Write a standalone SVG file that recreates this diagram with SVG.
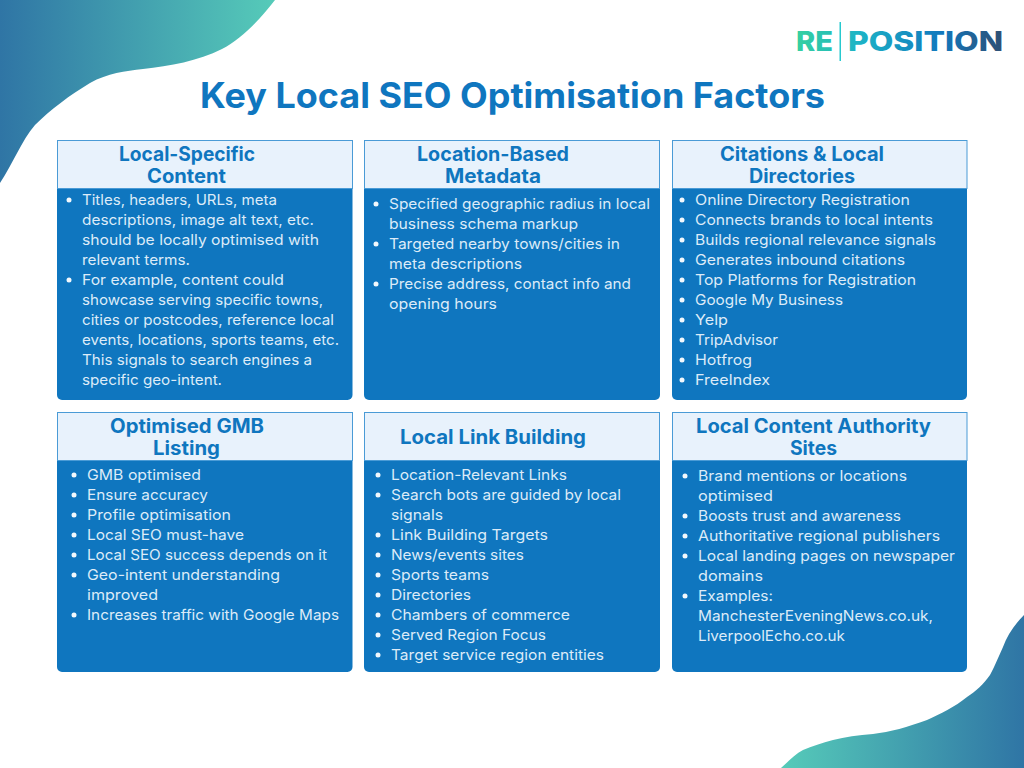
<svg xmlns="http://www.w3.org/2000/svg" width="1024" height="768" viewBox="0 0 1024 768">
<style>
text{font-family:Inter,"Open Sans","Liberation Sans",sans-serif}
.b{fill:#0f76bf}
.h{fill:#e8f2fc;stroke:#4a9bd6;stroke-width:1}
.t{font-size:19.5px;font-weight:700;fill:#0f76bf}
.l{font-size:14.5px;fill:#dcebf8;font-weight:400}
.d{fill:#f2f8fd}
</style>
<defs>
<linearGradient id="g1" gradientUnits="userSpaceOnUse" x1="0" y1="0" x2="275" y2="0"><stop offset="0" stop-color="#2f75a5"/><stop offset="1" stop-color="#56cbb9"/></linearGradient>
<linearGradient id="g2" gradientUnits="userSpaceOnUse" x1="1024" y1="0" x2="781" y2="0"><stop offset="0" stop-color="#2f75a5"/><stop offset="1" stop-color="#56cbb9"/></linearGradient>
<linearGradient id="g3" gradientUnits="userSpaceOnUse" x1="796" y1="0" x2="1003" y2="0"><stop offset="0" stop-color="#36d0a0"/><stop offset=".3" stop-color="#1db4c6"/><stop offset=".7" stop-color="#1278bd"/><stop offset="1" stop-color="#2f4f73"/></linearGradient>
</defs>
<path id="blob-top" fill="url(#g1)" d="M0,0H275C258,22 240,40 222,49C198,61 170,66 143,69C125,71 108,73 90,83C70,95 50,110 35,125C22,140 12,165 0,183Z"/>
<path id="blob-bottom" fill="url(#g2)" d="M1024,615C1014,625 1007,636 1003,647C997,660 994,668 990,675C983,685 976,691 967,697C955,707 940,714 927,720C908,727 890,732 873,734C858,735 845,737 833,740C822,743 812,746 803,750C795,754 788,762 781,768H1024Z"/>
<g id="logo">
<text x="796" y="51" font-size="27" font-weight="800" fill="url(#g3)" textLength="37" lengthAdjust="spacingAndGlyphs">RE</text>
<rect x="839.500" y="22" width="1.500" height="39" fill="#27c9cf"/>
<text x="848" y="51" font-size="27" font-weight="800" fill="url(#g3)" textLength="155" lengthAdjust="spacingAndGlyphs">POSITION</text>
</g>
<text id="title" x="200" y="108" font-size="35" font-weight="700" fill="#0f76bf" textLength="625" lengthAdjust="spacingAndGlyphs">Key Local SEO Optimisation Factors</text>

<g id="card-1">
<path class="b" d="M57,188H352.500V395a5,5 0 0 1-5,5H62a5,5 0 0 1-5-5Z"/>
<rect class="h" x="57.500" y="140.500" width="295" height="48"/>
<text class="t" x="119" y="161" textLength="136" lengthAdjust="spacingAndGlyphs">Local-Specific</text>
<text class="t" x="147" y="183" textLength="79" lengthAdjust="spacingAndGlyphs">Content</text>
<circle class="d" cx="69" cy="200" r="2.500"/><circle class="d" cx="69" cy="280" r="2.500"/>
<text class="l" x="82" y="205" textLength="195" lengthAdjust="spacingAndGlyphs">Titles, headers, URLs, meta</text>
<text class="l" x="82" y="225" textLength="232" lengthAdjust="spacingAndGlyphs">descriptions, image alt text, etc.</text>
<text class="l" x="82" y="245" textLength="237" lengthAdjust="spacingAndGlyphs">should be locally optimised with</text>
<text class="l" x="82" y="265" textLength="108" lengthAdjust="spacingAndGlyphs">relevant terms.</text>
<text class="l" x="82" y="285" textLength="202" lengthAdjust="spacingAndGlyphs">For example, content could</text>
<text class="l" x="82" y="305" textLength="241" lengthAdjust="spacingAndGlyphs">showcase serving specific towns,</text>
<text class="l" x="82" y="325" textLength="252" lengthAdjust="spacingAndGlyphs">cities or postcodes, reference local</text>
<text class="l" x="82" y="345" textLength="257" lengthAdjust="spacingAndGlyphs">events, locations, sports teams, etc.</text>
<text class="l" x="82" y="365" textLength="230" lengthAdjust="spacingAndGlyphs">This signals to search engines a</text>
<text class="l" x="82" y="385" textLength="140" lengthAdjust="spacingAndGlyphs">specific geo-intent.</text>
</g>

<g id="card-2">
<path class="b" d="M364,188H660V395a5,5 0 0 1-5,5H369a5,5 0 0 1-5-5Z"/>
<rect class="h" x="364.500" y="140.500" width="295" height="48"/>
<text class="t" x="417" y="161" textLength="152" lengthAdjust="spacingAndGlyphs">Location-Based</text>
<text class="t" x="445" y="183" textLength="96" lengthAdjust="spacingAndGlyphs">Metadata</text>
<circle class="d" cx="376" cy="204" r="2.500"/><circle class="d" cx="376" cy="244" r="2.500"/><circle class="d" cx="376" cy="284" r="2.500"/>
<text class="l" x="389" y="209" textLength="261" lengthAdjust="spacingAndGlyphs">Specified geographic radius in local</text>
<text class="l" x="389" y="229" textLength="189" lengthAdjust="spacingAndGlyphs">business schema markup</text>
<text class="l" x="389" y="249" textLength="231" lengthAdjust="spacingAndGlyphs">Targeted nearby towns/cities in</text>
<text class="l" x="389" y="269" textLength="133" lengthAdjust="spacingAndGlyphs">meta descriptions</text>
<text class="l" x="389" y="289" textLength="242" lengthAdjust="spacingAndGlyphs">Precise address, contact info and</text>
<text class="l" x="389" y="309" textLength="108" lengthAdjust="spacingAndGlyphs">opening hours</text>
</g>

<g id="card-3">
<path class="b" d="M672,188H967V395a5,5 0 0 1-5,5H677a5,5 0 0 1-5-5Z"/>
<rect class="h" x="672.500" y="140.500" width="294.500" height="48"/>
<text class="t" x="720" y="161" textLength="164" lengthAdjust="spacingAndGlyphs">Citations &amp; Local</text>
<text class="t" x="749" y="183" textLength="106" lengthAdjust="spacingAndGlyphs">Directories</text>
<circle class="d" cx="682" cy="200" r="2.500"/><circle class="d" cx="682" cy="220" r="2.500"/><circle class="d" cx="682" cy="240" r="2.500"/><circle class="d" cx="682" cy="260" r="2.500"/><circle class="d" cx="682" cy="280" r="2.500"/><circle class="d" cx="682" cy="300" r="2.500"/><circle class="d" cx="682" cy="320" r="2.500"/><circle class="d" cx="682" cy="340" r="2.500"/><circle class="d" cx="682" cy="360" r="2.500"/><circle class="d" cx="682" cy="380" r="2.500"/>
<text class="l" x="695" y="205" textLength="215" lengthAdjust="spacingAndGlyphs">Online Directory Registration</text>
<text class="l" x="695" y="225" textLength="238" lengthAdjust="spacingAndGlyphs">Connects brands to local intents</text>
<text class="l" x="695" y="245" textLength="241" lengthAdjust="spacingAndGlyphs">Builds regional relevance signals</text>
<text class="l" x="695" y="265" textLength="210" lengthAdjust="spacingAndGlyphs">Generates inbound citations</text>
<text class="l" x="695" y="285" textLength="221" lengthAdjust="spacingAndGlyphs">Top Platforms for Registration</text>
<text class="l" x="695" y="305" textLength="148" lengthAdjust="spacingAndGlyphs">Google My Business</text>
<text class="l" x="695" y="325" textLength="33" lengthAdjust="spacingAndGlyphs">Yelp</text>
<text class="l" x="695" y="345" textLength="83" lengthAdjust="spacingAndGlyphs">TripAdvisor</text>
<text class="l" x="695" y="365" textLength="57" lengthAdjust="spacingAndGlyphs">Hotfrog</text>
<text class="l" x="695" y="385" textLength="75" lengthAdjust="spacingAndGlyphs">FreeIndex</text>
</g>

<g id="card-4">
<path class="b" d="M57,460H352.500V667a5,5 0 0 1-5,5H62a5,5 0 0 1-5-5Z"/>
<rect class="h" x="57.500" y="412.500" width="295" height="48"/>
<text class="t" x="110" y="433" textLength="154" lengthAdjust="spacingAndGlyphs">Optimised GMB</text>
<text class="t" x="153" y="455" textLength="67" lengthAdjust="spacingAndGlyphs">Listing</text>
<circle class="d" cx="74" cy="475" r="2.500"/><circle class="d" cx="74" cy="495" r="2.500"/><circle class="d" cx="74" cy="515" r="2.500"/><circle class="d" cx="74" cy="535" r="2.500"/><circle class="d" cx="74" cy="555" r="2.500"/><circle class="d" cx="74" cy="575" r="2.500"/><circle class="d" cx="74" cy="615" r="2.500"/>
<text class="l" x="87" y="480" textLength="114" lengthAdjust="spacingAndGlyphs">GMB optimised</text>
<text class="l" x="87" y="500" textLength="121" lengthAdjust="spacingAndGlyphs">Ensure accuracy</text>
<text class="l" x="87" y="520" textLength="144" lengthAdjust="spacingAndGlyphs">Profile optimisation</text>
<text class="l" x="87" y="540" textLength="157" lengthAdjust="spacingAndGlyphs">Local SEO must-have</text>
<text class="l" x="87" y="560" textLength="240" lengthAdjust="spacingAndGlyphs">Local SEO success depends on it</text>
<text class="l" x="87" y="580" textLength="193" lengthAdjust="spacingAndGlyphs">Geo-intent understanding</text>
<text class="l" x="87" y="600" textLength="71" lengthAdjust="spacingAndGlyphs">improved</text>
<text class="l" x="87" y="620" textLength="252" lengthAdjust="spacingAndGlyphs">Increases traffic with Google Maps</text>
</g>

<g id="card-5">
<path class="b" d="M364,460H660V667a5,5 0 0 1-5,5H369a5,5 0 0 1-5-5Z"/>
<rect class="h" x="364.500" y="412.500" width="295" height="48"/>
<text class="t" x="400" y="444" textLength="186" lengthAdjust="spacingAndGlyphs">Local Link Building</text>
<circle class="d" cx="378" cy="475" r="2.500"/><circle class="d" cx="378" cy="495" r="2.500"/><circle class="d" cx="378" cy="535" r="2.500"/><circle class="d" cx="378" cy="555" r="2.500"/><circle class="d" cx="378" cy="575" r="2.500"/><circle class="d" cx="378" cy="595" r="2.500"/><circle class="d" cx="378" cy="615" r="2.500"/><circle class="d" cx="378" cy="635" r="2.500"/><circle class="d" cx="378" cy="655" r="2.500"/>
<text class="l" x="391" y="480" textLength="176" lengthAdjust="spacingAndGlyphs">Location-Relevant Links</text>
<text class="l" x="391" y="500" textLength="230" lengthAdjust="spacingAndGlyphs">Search bots are guided by local</text>
<text class="l" x="391" y="520" textLength="52" lengthAdjust="spacingAndGlyphs">signals</text>
<text class="l" x="391" y="540" textLength="157" lengthAdjust="spacingAndGlyphs">Link Building Targets</text>
<text class="l" x="391" y="560" textLength="133" lengthAdjust="spacingAndGlyphs">News/events sites</text>
<text class="l" x="391" y="580" textLength="98" lengthAdjust="spacingAndGlyphs">Sports teams</text>
<text class="l" x="391" y="600" textLength="80" lengthAdjust="spacingAndGlyphs">Directories</text>
<text class="l" x="391" y="620" textLength="179" lengthAdjust="spacingAndGlyphs">Chambers of commerce</text>
<text class="l" x="391" y="640" textLength="155" lengthAdjust="spacingAndGlyphs">Served Region Focus</text>
<text class="l" x="391" y="660" textLength="213" lengthAdjust="spacingAndGlyphs">Target service region entities</text>
</g>

<g id="card-6">
<path class="b" d="M672,460H967V667a5,5 0 0 1-5,5H677a5,5 0 0 1-5-5Z"/>
<rect class="h" x="672.500" y="412.500" width="294.500" height="48"/>
<text class="t" x="696" y="433" textLength="235" lengthAdjust="spacingAndGlyphs">Local Content Authority</text>
<text class="t" x="790" y="455" textLength="47" lengthAdjust="spacingAndGlyphs">Sites</text>
<circle class="d" cx="685" cy="476" r="2.500"/><circle class="d" cx="685" cy="516" r="2.500"/><circle class="d" cx="685" cy="536" r="2.500"/><circle class="d" cx="685" cy="556" r="2.500"/><circle class="d" cx="685" cy="596" r="2.500"/>
<text class="l" x="698" y="481" textLength="209" lengthAdjust="spacingAndGlyphs">Brand mentions or locations</text>
<text class="l" x="698" y="501" textLength="75" lengthAdjust="spacingAndGlyphs">optimised</text>
<text class="l" x="698" y="521" textLength="203" lengthAdjust="spacingAndGlyphs">Boosts trust and awareness</text>
<text class="l" x="698" y="541" textLength="242" lengthAdjust="spacingAndGlyphs">Authoritative regional publishers</text>
<text class="l" x="698" y="561" textLength="257" lengthAdjust="spacingAndGlyphs">Local landing pages on newspaper</text>
<text class="l" x="698" y="581" textLength="65" lengthAdjust="spacingAndGlyphs">domains</text>
<text class="l" x="698" y="601" textLength="75" lengthAdjust="spacingAndGlyphs">Examples:</text>
<text class="l" x="698" y="621" textLength="235" lengthAdjust="spacingAndGlyphs">ManchesterEveningNews.co.uk,</text>
<text class="l" x="698" y="641" textLength="147" lengthAdjust="spacingAndGlyphs">LiverpoolEcho.co.uk</text>
</g>
</svg>
